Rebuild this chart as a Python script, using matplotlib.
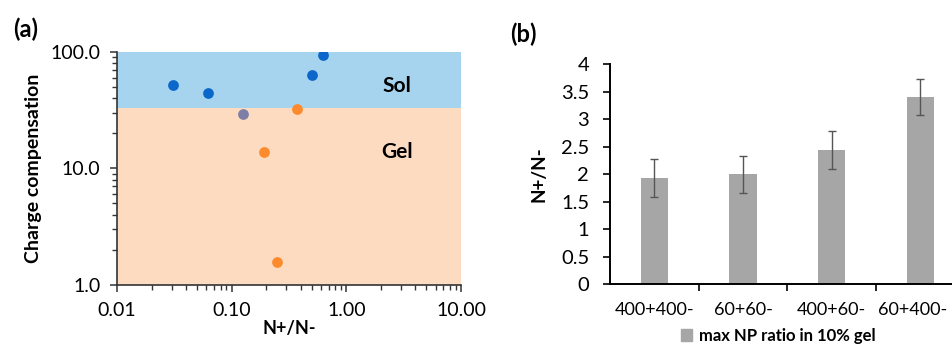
import matplotlib
matplotlib.use("Agg")
import matplotlib.pyplot as plt
import matplotlib.transforms as mtransforms
from matplotlib.ticker import FixedLocator, FixedFormatter, LogLocator, NullFormatter
from matplotlib.patches import Patch

plt.rcParams['font.family'] = ['Lato', 'DejaVu Sans']

# Panel (a) data
sol_x = [0.031, 0.062, 0.50, 0.63]
sol_y = [52.0, 44.5, 63.0, 94.0]
gel_x = [0.37, 0.19, 0.25]
gel_y = [32.5, 13.9, 1.58]
mid_x = [0.125]
mid_y = [29.3]
boundary = 33.0
region_labels = ["Sol", "Gel"]

# Panel (b) data
categories = ["400+400-", "60+60-", "400+60-", "60+400-"]
values = [1.93, 2.00, 2.44, 3.40]
errors = [0.34, 0.34, 0.34, 0.33]
legend_label = "max NP ratio in 10% gel"

fig = plt.figure(figsize=(9.53, 3.45), dpi=100)

# ---------------- Panel (a)
ax = fig.add_axes([117/953, 1-285/345, 344/953, (285-51.7)/345])
ax.set_xscale('log')
ax.set_yscale('log')
ax.set_xlim(0.01, 10)
ax.set_ylim(1, 100)
ax.axhspan(boundary, 100, color='#a6d4ee', zorder=0, lw=0)
ax.axhspan(1, boundary, color='#fddbc0', zorder=0, lw=0)
ax.scatter(sol_x, sol_y, s=60, color='#0b67c9', zorder=3, lw=0)
ax.scatter(gel_x, gel_y, s=60, color='#fd8a2c', zorder=3, lw=0)
ax.scatter(mid_x, mid_y, s=60, color='#7d7fa6', zorder=3, lw=0)
ax.text(2.75, 51, region_labels[0], fontsize=15, fontweight='bold', ha='center', va='center')
ax.text(2.75, 13.8, region_labels[1], fontsize=15, fontweight='bold', ha='center', va='center')
ax.spines['top'].set_visible(False)
ax.spines['right'].set_visible(False)
for s in ['left', 'bottom']:
    ax.spines[s].set_color('#333333')
    ax.spines[s].set_linewidth(1.2)
ax.xaxis.set_major_locator(FixedLocator([0.01, 0.1, 1, 10]))
ax.xaxis.set_major_formatter(FixedFormatter(["0.01", "0.10", "1.00", "10.00"]))
ax.xaxis.set_minor_locator(LogLocator(base=10, subs=range(2, 10)))
ax.xaxis.set_minor_formatter(NullFormatter())
ax.yaxis.set_major_locator(FixedLocator([1, 10, 100]))
ax.yaxis.set_major_formatter(FixedFormatter(["1.0", "10.0", "100.0"]))
ax.yaxis.set_minor_locator(LogLocator(base=10, subs=range(2, 10)))
ax.yaxis.set_minor_formatter(NullFormatter())
ax.tick_params(which='major', length=5, width=1.1, color='#333333', labelsize=14, pad=7)
ax.tick_params(which='minor', length=3.5, width=1.0, color='#333333')
ax.set_ylabel("Charge compensation", fontsize=14, fontweight='bold', labelpad=6)
ax.set_xlabel("N+/N-", fontsize=13, fontweight='bold', labelpad=1)
fig.text(13/953, 1-29/345, "(a)", fontsize=17, fontweight='bold', va='center')

# ---------------- Panel (b)
bx = fig.add_axes([610/953, 1-284.3/345, 354.7/953, (284.3-64.3)/345])
pos = list(range(len(categories)))
bx.bar(pos, values, width=0.31, color='#a6a6a6', zorder=2, label=legend_label)
bx.errorbar(pos, values, yerr=errors, fmt='none', ecolor='#555555', elinewidth=1.0,
            capsize=3, capthick=1.0, zorder=3)
bx.set_xlim(-0.5, len(categories) - 0.5)
bx.set_ylim(0, 4)
bx.set_yticks([0, 0.5, 1, 1.5, 2, 2.5, 3, 3.5, 4])
bx.set_yticklabels(["0", "0.5", "1", "1.5", "2", "2.5", "3", "3.5", "4"])
bx.set_xticks(pos)
bx.set_xticklabels(categories)
bx.set_xticks([p + 0.5 for p in pos[:-1]], minor=True)
bx.tick_params(axis='x', which='major', length=0, labelsize=13, pad=13)
bx.tick_params(axis='x', which='minor', length=5, width=1.2, direction='out')
bx.tick_params(axis='y', length=5, width=1.2, labelsize=14.5, pad=10)
# keep the last category label inside the figure (as in the reference)
last = bx.get_xticklabels()[-1]
last.set_transform(last.get_transform() + mtransforms.ScaledTranslation(-8/100, 0, fig.dpi_scale_trans))
bx.spines['top'].set_visible(False)
bx.spines['right'].set_visible(False)
for s in ['left', 'bottom']:
    bx.spines[s].set_linewidth(1.4)
bx.set_ylabel("N+/N-", fontsize=13.5, fontweight='bold', labelpad=10)
fig.text(510/953, 1-34/345, "(b)", fontsize=17, fontweight='bold', va='center')
fig.legend(handles=[Patch(color='#a6a6a6', label=legend_label)], loc='center',
           bbox_to_anchor=(778/953, 1-336/345), frameon=False, handlelength=0.7,
           handleheight=0.7, handletextpad=0.4, prop={'weight': 'bold', 'size': 12})

fig.savefig("out.png", dpi=100)
